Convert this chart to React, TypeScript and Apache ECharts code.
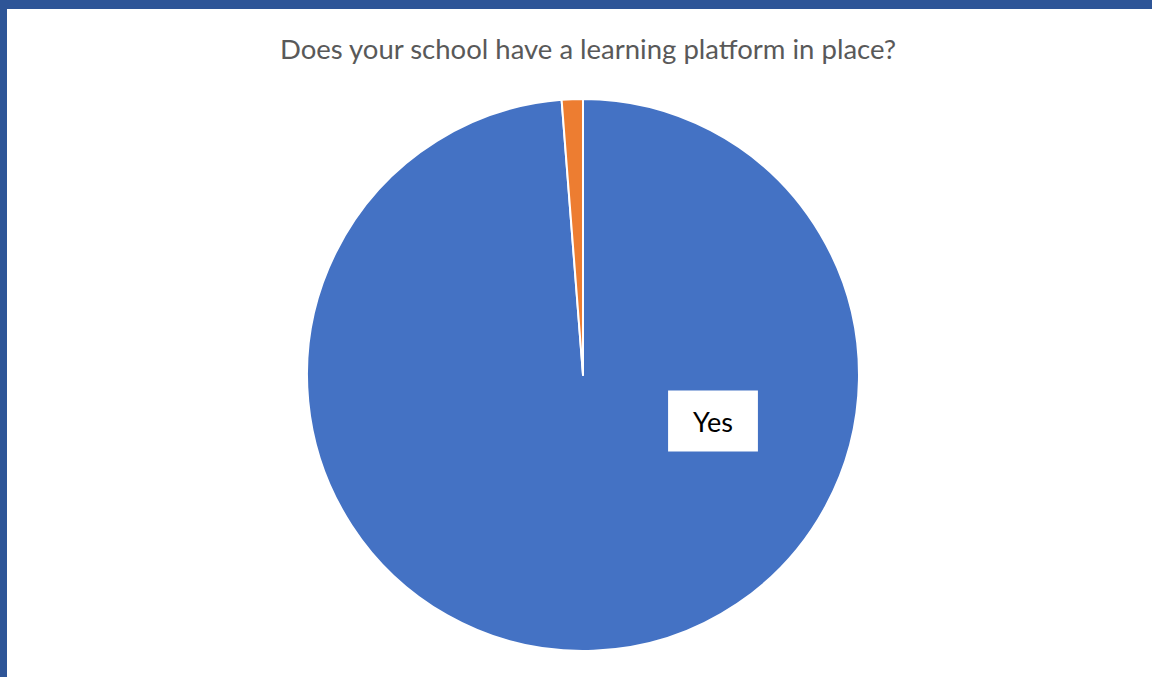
import React, { useEffect, useRef } from "react";
import * as echarts from "echarts";

const title = "Does your school have a learning platform in place?";
const categories = ["Yes", "No"];
const values = [80, 1];
const colors = ["#4472C4", "#ED7D31"];

export default function App() {
  const ref = useRef<HTMLDivElement>(null);
  useEffect(() => {
    if (!ref.current) return;
    const chart = echarts.init(ref.current, undefined, { renderer: "svg" });
    chart.setOption({
      animation: false,
      backgroundColor: "#ffffff",
      title: {
        text: title,
        left: 583,
        textAlign: "center",
        top: 29,
        textStyle: {
          fontFamily: "Lato, 'Open Sans', sans-serif",
          fontSize: 27.5,
          fontWeight: "normal",
          color: "#595959",
        },
      },
      series: [
        {
          type: "pie",
          center: [583, 375],
          radius: 276,
          startAngle: 90,
          clockwise: true,
          itemStyle: { borderColor: "#ffffff", borderWidth: 2 },
          label: {
            show: true,
            position: "inside",
            formatter: "{b}",
            fontFamily: "Lato, 'Open Sans', sans-serif",
            fontSize: 27,
            lineHeight: 27,
            color: "#000000",
            backgroundColor: "#ffffff",
            padding: [17, 25, 17, 25],
          },
          labelLayout: (params: any) =>
            params.dataIndex === 0
              ? { x: 713, y: 421, align: "center", verticalAlign: "middle" }
              : {},
          data: categories.map((c, i) => ({
            name: c,
            value: values[i],
            itemStyle: { color: colors[i] },
            label: { show: i === 0 },
          })),
        },
      ],
    });
    return () => chart.dispose();
  }, []);
  return (
    <div style={{ position: "fixed", left: 0, top: 0, width: 1152, height: 677, background: "#fff" }}>
      <div ref={ref} style={{ position: "absolute", left: 0, top: 0, width: 1152, height: 677 }} />
      <div style={{ position: "absolute", left: 0, top: 0, width: 1152, height: 9, background: "#2E5597" }} />
      <div style={{ position: "absolute", left: 0, top: 0, width: 7, height: 677, background: "#2E5597" }} />
    </div>
  );
}
